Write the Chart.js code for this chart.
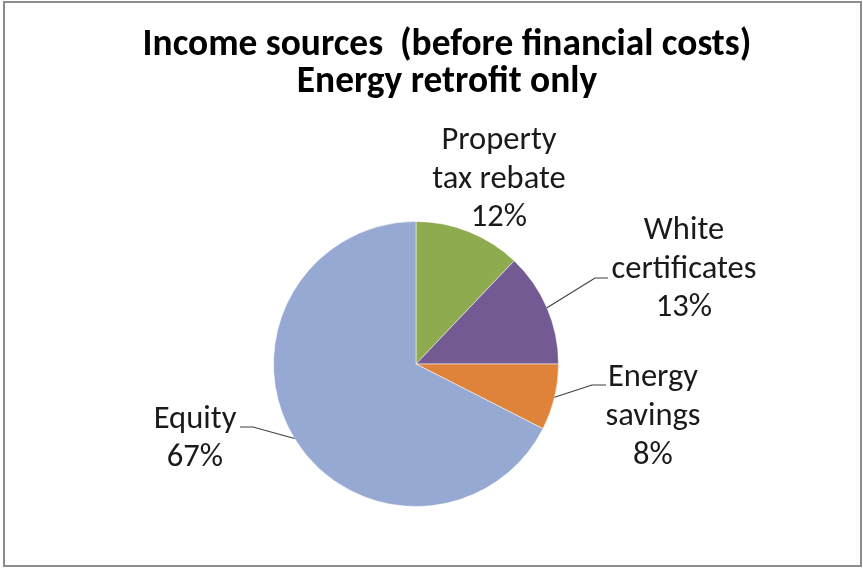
<!DOCTYPE html>
<html>
<head>
<meta charset="utf-8">
<script src="https://cdn.jsdelivr.net/npm/chart.js@4"></script>
<style>
html,body{margin:0;padding:0;background:#fff;}
#wrap{width:863px;height:569px;position:relative;}
</style>
</head>
<body>
<div id="wrap"><canvas id="c" width="863" height="569"></canvas></div>
<script>
// ---- data ----
const categories = ["Property tax rebate", "White certificates", "Energy savings", "Equity"];
const values = [12.1, 12.9, 7.5, 67.5];
const pctLabels = ["12%", "13%", "8%", "67%"];
const labelLines = [["Property", "tax rebate"], ["White", "certificates"], ["Energy", "savings"], ["Equity"]];
const colors = ["#8EAB50", "#735A92", "#DF833B", "#95A9D3"];
const titleLines = ["Income sources  (before financial costs)", "Energy retrofit only"];

// ---- layout (positions/styles) ----
const FAMILY = "Carlito, Lato, 'Open Sans', sans-serif";
const labelPos = [
  {x: 499, base: [149, 187.5, 226]},
  {x: 684, base: [239, 278, 316]},
  {x: 653, base: [386, 425, 464]},
  {x: 195, base: [428, 466]}
];
const leaders = [
  null,
  {ex: 595, ey: 278, tx: 608},
  {ex: 592, ey: 385, tx: 606},
  {ex: 253, ey: 427, tx: 240}
];

function fitSize(text, target, weight) {
  const m = document.createElement('canvas').getContext('2d');
  const s = 20;
  m.font = weight + ' ' + s + 'px ' + FAMILY;
  return s * target / m.measureText(text).width;
}
const labelSize = fitSize("certificates", 145, 'normal');
const titleSize = fitSize(titleLines[0], 609, 'bold');

const overlay = {
  id: 'overlay',
  afterDraw(chart) {
    const ctx = chart.ctx;
    ctx.save();
    ctx.strokeStyle = '#8c8c8c';
    ctx.lineWidth = 2;
    ctx.strokeRect(4, 2, 857, 564);
    ctx.fillStyle = '#000';
    ctx.textAlign = 'center';
    ctx.textBaseline = 'alphabetic';
    ctx.font = 'bold ' + titleSize + 'px ' + FAMILY;
    ctx.fillText(titleLines[0], 447, 55);
    ctx.fillText(titleLines[1], 447, 92);
    const meta = chart.getDatasetMeta(0);
    ctx.strokeStyle = '#404040';
    ctx.lineWidth = 1.2;
    meta.data.forEach((arc, i) => {
      const L = leaders[i];
      if (!L) return;
      const ang = (arc.startAngle + arc.endAngle) / 2;
      const sx = arc.x + Math.cos(ang) * arc.outerRadius;
      const sy = arc.y + Math.sin(ang) * arc.outerRadius;
      ctx.beginPath();
      ctx.moveTo(sx, sy);
      ctx.lineTo(L.ex, L.ey);
      ctx.lineTo(L.tx, L.ey);
      ctx.stroke();
    });
    ctx.fillStyle = '#1a1a1a';
    ctx.font = labelSize + 'px ' + FAMILY;
    labelLines.forEach((lines, i) => {
      const p = labelPos[i];
      lines.concat([pctLabels[i]]).forEach((t, k) => ctx.fillText(t, p.x, p.base[k]));
    });
    ctx.restore();
  }
};

new Chart(document.getElementById('c'), {
  type: 'pie',
  data: {
    labels: categories,
    datasets: [{
      data: values,
      backgroundColor: colors,
      borderColor: 'rgba(255,255,255,0.5)',
      borderWidth: 1
    }]
  },
  options: {
    responsive: false,
    animation: false,
    layout: {padding: {left: 273, right: 304, top: 221, bottom: 62}},
    plugins: {legend: {display: false}, tooltip: {enabled: false}, title: {display: false}}
  },
  plugins: [overlay]
});
</script>
</body>
</html>
